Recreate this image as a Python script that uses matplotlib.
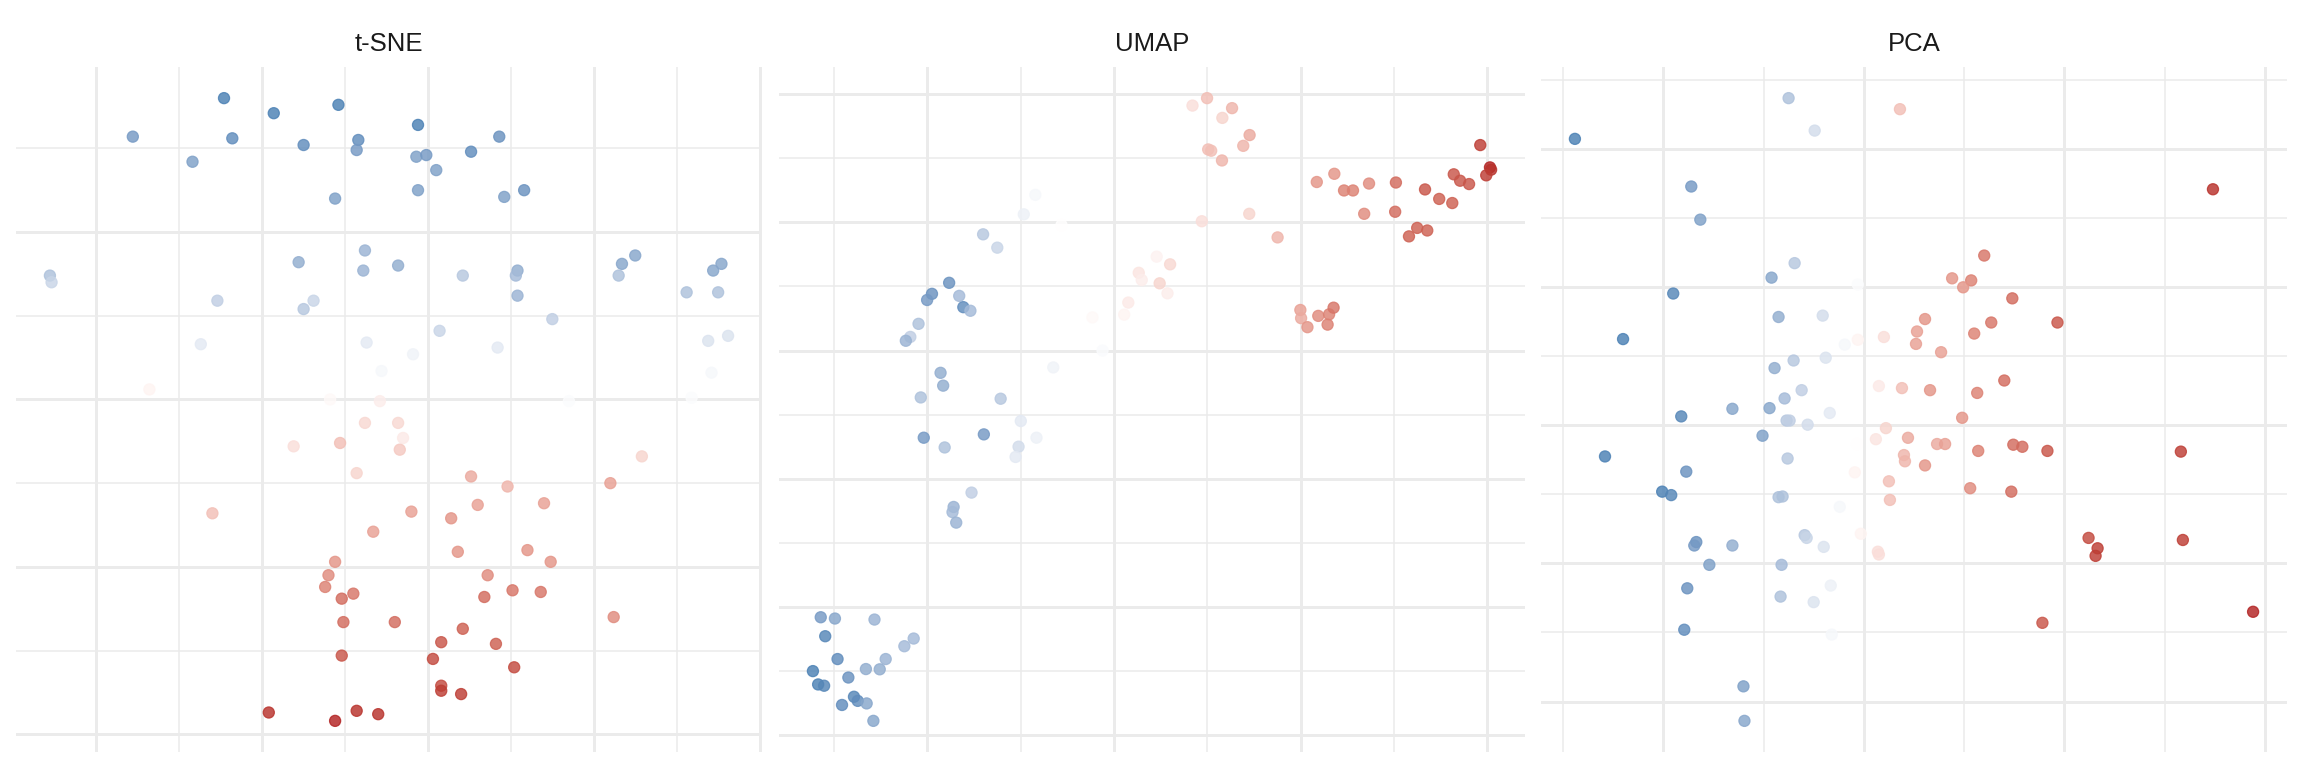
import numpy as np
import matplotlib
matplotlib.use("Agg")
import matplotlib.pyplot as plt
from matplotlib.colors import ListedColormap
from matplotlib.ticker import MultipleLocator

# ---------------- data ----------------
titles = ["t-SNE", "UMAP", "PCA"]

tsne_x = [-12.3, -9.3, -5.4, -17.8, -11.8, -14.2, -7.5, -4.2, -4.3, -0.6, -0.7, -0.1, 0.5, 2.6, 4.3, -5.6, -0.6, 4.6, 5.8,
          -3.8, -7.8, -3.9, -1.8, 2.1, -22.8, -22.7, -12.7, -7.5, -6.9, 5.4, 5.3, 5.4, 11.7, 12.5, 11.5, 17.7, 17.2, 15.6, 17.5, 7.5, 16.9, 18.1, 17.1, 8.5, 15.9,
          -13.7, -3.7, 0.7, 4.2, -0.9, -2.8, -16.8, -5.9, -2.9, -3.8, -1.8, -1.5, -5.3, -1.7, -8.1, -4.3, 2.6, 4.8, -13.0, -1.0, 3.0, 1.4, 12.9, 11.0, 7.0,
          -3.3, 1.8, 6.0, 7.4, -5.6, -6.0, 3.6, -6.2, -4.5, -5.2, 5.1, 6.8, 3.4, 11.2, -5.1, -2.0, 2.1, 0.8, 4.1, -5.2, 0.3, 5.2, 0.8, 0.8, 2.0, -9.6, -5.6, -4.3, -3.0]
tsne_y = [28.0, 27.1, 27.6, 25.7, 25.6, 24.2, 25.2, 25.5, 24.9, 26.4, 24.5, 24.6, 23.7, 24.8, 25.7, 22.0, 22.5, 22.1, 22.5,
          18.9, 18.2, 17.7, 18.0, 17.4, 17.4, 17.0, 15.9, 15.4, 15.9, 17.7, 17.4, 16.2, 18.1, 18.6, 17.4, 18.1, 17.7, 16.4, 16.4, 14.8, 13.5, 13.8, 11.6, 9.9, 10.1,
          13.3, 13.4, 14.1, 13.1, 12.7, 11.7, 10.6, 10.0, 9.9, 8.6, 8.6, 7.7, 7.4, 7.0, 7.2, 5.6, 5.4, 4.8, 3.2, 3.3, 3.7, 2.9, 6.6, 5.0, 3.8,
          2.1, 0.9, 1.0, 0.3, 0.3, -0.5, -0.5, -1.2, -1.6, -1.9, -1.4, -1.5, -1.8, -3.0, -3.3, -3.3, -3.7, -4.5, -4.6, -5.3, -5.5, -6.0, -7.1, -7.4, -7.6, -8.7, -9.2, -8.6, -8.8]
tsne_v = [-0.95, -0.95, -0.95, -0.75, -0.85, -0.7, -0.85, -0.85, -0.75, -0.95, -0.7, -0.75, -0.7, -0.85, -0.8, -0.7, -0.7, -0.7, -0.8,
          -0.55, -0.6, -0.55, -0.6, -0.4, -0.45, -0.3, -0.35, -0.4, -0.3, -0.6, -0.5, -0.55, -0.65, -0.65, -0.45, -0.65, -0.65, -0.45, -0.45, -0.35, -0.2, -0.2, -0.05, -0.02, -0.02,
          -0.15, -0.15, -0.3, -0.15, -0.08, -0.05, 0.05, 0.03, 0.08, 0.18, 0.18, 0.1, 0.3, 0.25, 0.15, 0.2, 0.4, 0.35, 0.3, 0.45, 0.45, 0.5, 0.2, 0.45, 0.45,
          0.45, 0.5, 0.5, 0.5, 0.5, 0.55, 0.55, 0.6, 0.65, 0.7, 0.65, 0.65, 0.7, 0.55, 0.7, 0.7, 0.75, 0.8, 0.75, 0.8, 0.85, 0.85, 0.85, 0.9, 0.9, 0.95, 1.0, 0.95, 0.95]

umap_x = [1.49, 1.87, 2.58, 2.89, 0.58, 0.12, -0.01, 0.85, 0.96, 1.15, -0.24, -0.46, -0.58, 0.35, 0.42, -0.18, 1.96, 2.50, 2.92, -0.10, 1.51, 0.46, 2.44, 2.36, 1.18, 0.70, 0.67, 0.77,
          3.37, 4.69, 4.42, 5.27, 5.38, 5.66, 5.74, 6.14, 6.50, 6.22, 6.43, 3.59, 7.35, 8.62, 9.38, 7.10, 7.49, 8.16, 7.90, 8.63, 8.46, 7.52, 7.60, 7.89,
          10.43, 10.90, 11.16, 11.40, 11.83, 12.55, 11.70, 12.53, 13.33, 13.71, 14.06, 14.10, 14.27, 14.51, 14.81, 15.07, 15.10, 14.97, 13.12, 12.90, 13.39, 9.99, 10.01, 10.18, 10.47, 10.72, 10.76, 10.88,
          -2.86, -2.48, -1.42, -2.74, -0.37, -0.62, -2.41, -1.12, -1.65, -1.28, -3.07, -2.12, -2.93, -2.77, -1.97, -1.87, -1.63, -2.29, -1.45]
umap_y = [4.53, 4.01, 5.31, 6.07, 2.64, 2.21, 1.97, 2.13, 1.69, 1.55, 1.04, 0.53, 0.38, -0.87, -1.37, -1.83, -1.88, -2.75, -3.40, -3.40, -3.27, -3.78, -3.75, -4.15, -5.54, -6.10, -6.30, -6.71,
          -0.66, 0.0, 1.29, 1.40, 1.87, 3.03, 2.75, 3.66, 3.36, 2.62, 2.23, 4.89, 5.04, 5.33, 4.41, 9.55, 9.84, 9.45, 9.07, 8.40, 7.98, 7.84, 7.79, 7.41,
          6.57, 6.89, 6.24, 6.24, 6.51, 6.55, 5.33, 5.41, 6.28, 5.91, 5.75, 6.87, 6.62, 6.49, 8.01, 7.14, 7.05, 6.83, 4.78, 4.45, 4.68, 1.58, 1.26, 0.91, 1.35, 1.01, 1.41, 1.67,
          -10.40, -10.45, -10.49, -11.14, -11.23, -11.53, -12.03, -12.03, -12.42, -12.43, -12.50, -12.75, -13.02, -13.07, -13.50, -13.66, -13.76, -13.82, -14.44]
umap_v = [-0.4, -0.3, -0.1, -0.05, -0.8, -0.8, -0.75, -0.5, -0.85, -0.5, -0.45, -0.35, -0.55, -0.6, -0.6, -0.45, -0.4, -0.15, -0.1, -0.75, -0.75, -0.45, -0.25, -0.15, -0.35, -0.55, -0.5, -0.55,
          -0.08, -0.03, 0.03, 0.05, 0.1, 0.12, 0.08, 0.06, 0.18, 0.2, 0.08, 0.0, 0.15, 0.2, 0.35, 0.15, 0.3, 0.35, 0.2, 0.4, 0.35, 0.3, 0.3, 0.35,
          0.5, 0.5, 0.6, 0.6, 0.55, 0.7, 0.55, 0.7, 0.8, 0.75, 0.75, 0.8, 0.8, 0.8, 0.9, 1.0, 0.95, 0.9, 0.75, 0.75, 0.75, 0.45, 0.4, 0.5, 0.55, 0.6, 0.6, 0.65,
          -0.75, -0.65, -0.55, -0.9, -0.5, -0.5, -0.85, -0.55, -0.6, -0.6, -0.95, -0.8, -0.95, -0.9, -0.9, -0.85, -0.65, -0.85, -0.65]

pca_x = [-0.75, -0.49, 0.36, -2.88, -1.72, -1.63, -0.69, -0.92, -0.06, -1.90, -0.85, -0.41, -2.40, -0.06, -0.19, 0.20, 0.61, 0.53, 0.52, 0.77,
         -0.70, -0.89, -0.38, 0.15, 0.38, 0.66, -0.62, -0.79, -1.31, -0.94, -1.82, -0.77, -0.74, -0.56, -0.34, -1.01, 0.22, 0.12, 0.44, 0.73,
         -0.07, -2.58, -0.76, -1.77, 0.40, 0.41, 0.61, -0.09, 0.25, -2.01, -1.92, -0.85, -0.81, -0.24, 0.26,
         3.48, 1.20, 0.88, 1.07, 0.99, 1.48, 1.27, 1.93, 1.10, 1.40, 1.13, 0.98, 0.81, 1.14, 1.49, 1.58, 1.83, 3.16, 1.06, 1.47,
         -0.59, -0.57, -0.40, -0.03, 0.14, 0.15, -1.67, -1.69, -1.31, -1.54, -0.82, -1.76, -0.83, -0.33, -0.50, -1.79, -0.32, -1.20, -1.19, 2.24, 2.33, 2.31, 3.18, 3.88, 1.78]
pca_y = [4.74, 4.27, 4.58, 4.15, 3.46, 2.98, 2.35, 2.14, 2.04, 1.91, 1.57, 1.59, 1.25, 1.24, 1.17, 1.28, 1.54, 1.36, 1.18, 1.06,
         0.94, 0.83, 0.98, 0.57, 0.54, 0.51, 0.51, 0.39, 0.24, 0.25, 0.13, 0.07, 0.07, 0.01, 0.18, -0.15, -0.04, -0.20, -0.18, -0.27,
         -0.27, -0.45, -0.48, -0.67, -0.43, -0.52, -0.58, -0.68, -0.81, -0.96, -1.01, -1.04, -1.03, -1.18, -1.08,
         3.42, 2.46, 2.13, 2.10, 2.00, 1.84, 1.49, 1.49, 1.33, 0.65, 0.47, 0.11, -0.27, -0.37, -0.28, -0.31, -0.37, -0.38, -0.91, -0.96,
         -1.59, -1.63, -1.76, -1.57, -1.83, -1.87, -1.69, -1.74, -1.74, -2.02, -2.02, -2.36, -2.48, -2.32, -2.56, -2.96, -3.03, -3.78, -4.28, -1.63, -1.78, -1.89, -1.66, -2.70, -2.86]
pca_v = [-0.45, -0.25, 0.3, -0.95, -0.75, -0.7, -0.4, -0.65, -0.02, -0.9, -0.6, -0.25, -0.95, 0.05, -0.05, 0.15, 0.5, 0.45, 0.45, 0.45,
         -0.4, -0.6, -0.2, 0.1, 0.3, 0.5, -0.35, -0.5, -0.65, -0.65, -0.9, -0.4, -0.35, -0.25, -0.15, -0.7, 0.2, 0.12, 0.4, 0.4,
         0.0, -0.95, -0.4, -0.8, 0.35, 0.35, 0.5, 0.05, 0.3, -0.95, -0.9, -0.45, -0.45, -0.05, 0.3,
         0.95, 0.65, 0.5, 0.6, 0.5, 0.7, 0.65, 0.8, 0.6, 0.7, 0.6, 0.5, 0.45, 0.6, 0.7, 0.7, 0.8, 0.9, 0.55, 0.7,
         -0.4, -0.3, -0.2, 0.05, 0.15, 0.15, -0.8, -0.75, -0.6, -0.7, -0.5, -0.8, -0.45, -0.1, -0.2, -0.85, -0.05, -0.7, -0.65, 0.85, 0.9, 0.9, 0.9, 1.0, 0.8]

grid_steps = [(10, 10), (5, 5), (2, 2)]   # major grid step (x, y) per panel

# ---------------- colour scale (Lab interpolation, like scale_colour_gradient2) ----------------
_M = np.array([[0.4124, 0.3576, 0.1805], [0.2126, 0.7152, 0.0722], [0.0193, 0.1192, 0.9505]])
_Minv = np.linalg.inv(_M)
_W = _M @ np.ones(3)


def _hex(h):
    h = h.lstrip("#")
    return np.array([int(h[i:i + 2], 16) / 255 for i in (0, 2, 4)])


def rgb2lab(c):
    lin = np.where(c <= 0.04045, c / 12.92, ((c + 0.055) / 1.055) ** 2.4)
    t = (_M @ lin) / _W
    d = 6 / 29
    f = np.where(t > d ** 3, np.cbrt(t), t / (3 * d * d) + 4 / 29)
    return np.array([116 * f[1] - 16, 500 * (f[0] - f[1]), 200 * (f[1] - f[2])])


def lab2rgb(lab):
    fy = (lab[0] + 16) / 116
    f = np.array([fy + lab[1] / 500, fy, fy - lab[2] / 200])
    d = 6 / 29
    t = np.where(f > d, f ** 3, 3 * d * d * (f - 4 / 29))
    lin = _Minv @ (t * _W)
    lin = np.clip(lin, 0, 1)
    c = np.where(lin <= 0.0031308, 12.92 * lin, 1.055 * lin ** (1 / 2.4) - 0.055)
    return np.clip(c, 0, 1)


low, mid, high = rgb2lab(_hex("#3E7AB0")), rgb2lab(_hex("#FFFFFF")), rgb2lab(_hex("#B22222"))
cols = []
for t in np.linspace(-1, 1, 256):
    if t < 0:
        lab = mid + (low - mid) * (-t)
    else:
        lab = mid + (high - mid) * t
    cols.append(lab2rgb(lab))
cmap = ListedColormap(cols)

# ---------------- figure ----------------
plt.rcParams["font.family"] = ["Liberation Sans", "DejaVu Sans"]
fig = plt.figure(figsize=(23.04, 7.68), dpi=100)
fig.patch.set_facecolor("white")

W, H = 2304, 768
lefts = [16, 779, 1541]
pw = 746
top, bottom = 67, 752

panels = [(tsne_x, tsne_y, tsne_v), (umap_x, umap_y, umap_v), (pca_x, pca_y, pca_v)]

for i, (xs, ys, vs) in enumerate(panels):
    ax = fig.add_axes([lefts[i] / W, (H - bottom) / H, pw / W, (bottom - top) / H])
    xs = np.asarray(xs); ys = np.asarray(ys); vs = np.asarray(vs)
    rx = xs.max() - xs.min(); ry = ys.max() - ys.min()
    ax.set_xlim(xs.min() - 0.05 * rx, xs.max() + 0.05 * rx)
    ax.set_ylim(ys.min() - 0.05 * ry, ys.max() + 0.05 * ry)
    sx, sy = grid_steps[i]
    ax.xaxis.set_major_locator(MultipleLocator(sx))
    ax.xaxis.set_minor_locator(MultipleLocator(sx / 2))
    ax.yaxis.set_major_locator(MultipleLocator(sy))
    ax.yaxis.set_minor_locator(MultipleLocator(sy / 2))
    ax.grid(which="major", color="#EBEBEB", linewidth=2.1)
    ax.grid(which="minor", color="#EBEBEB", linewidth=1.1)
    ax.set_axisbelow(True)
    ax.tick_params(which="both", length=0, labelbottom=False, labelleft=False)
    for s in ax.spines.values():
        s.set_visible(False)
    ax.scatter(xs, ys, c=vs, cmap=cmap, vmin=-1, vmax=1, s=64,
               edgecolors="face", linewidths=0.9, alpha=0.82, zorder=3)
    ax.set_title(titles[i], fontsize=18.5, color="#1A1A1A", pad=11.5)

fig.savefig("out.png", dpi=100, facecolor="white")
